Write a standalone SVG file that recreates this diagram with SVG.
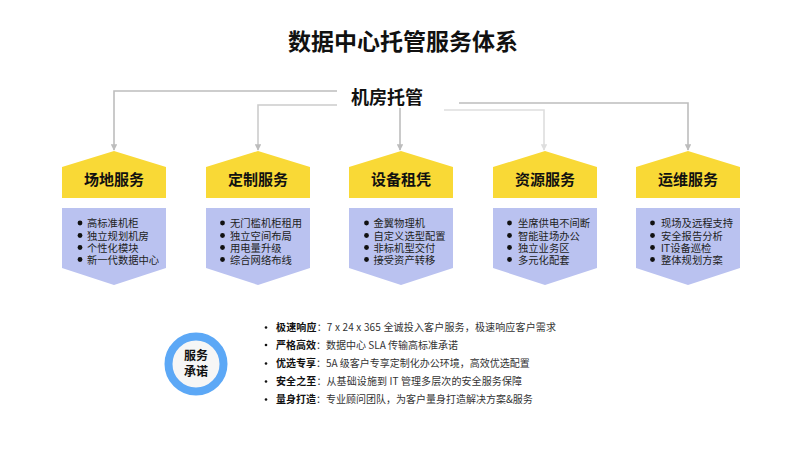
<svg xmlns="http://www.w3.org/2000/svg" width="800" height="450" viewBox="0 0 800 450">
<defs>
<style>
text{font-family:"Noto Sans CJK SC","Noto Sans",sans-serif;fill:#111}
.title{font-size:23px;font-weight:bold;text-anchor:middle}
.root{font-size:18px;font-weight:bold;text-anchor:middle}
.lbl{font-size:15px;font-weight:bold;text-anchor:middle}
.item{font-family:"Liberation Sans","Noto Sans CJK SC",sans-serif;font-size:10.3px;fill:#222}
.hd{fill:#f9d936}
.bd{fill:#bac2f0}
.con{fill:none;stroke:#bdbdbd;stroke-width:1.6}
.b{font-size:10px;fill:#333}
.bb{font-weight:bold;fill:#111}
</style>
<marker id="ar" viewBox="0 0 10 10" refX="9" refY="5" markerWidth="4" markerHeight="4" orient="auto" markerUnits="strokeWidth">
<path d="M0,0 L10,5 L0,10 z" fill="#bdbdbd"/>
</marker>
<marker id="ar2" viewBox="0 0 10 10" refX="9" refY="5" markerWidth="4" markerHeight="4" orient="auto" markerUnits="strokeWidth">
<path d="M0,0 L10,5 L0,10 z" fill="#dedede"/>
</marker>
</defs>
<rect width="800" height="450" fill="#fff"/>
<text class="title" x="403" y="50">数据中心托管服务体系</text>
<g id="root"><text class="root" x="387" y="104">机房托管</text></g>
<g id="connectors">
<path class="con" d="M337,91 H114 V150" marker-end="url(#ar)"/>
<path class="con" d="M337,105 H258 V150" style="stroke:#cccccc" marker-end="url(#ar)"/>
<path class="con" d="M400,108 V150" marker-end="url(#ar)"/>
<path class="con" d="M444,110 H544 V150" style="stroke:#dedede" marker-end="url(#ar2)"/>
<path class="con" d="M459,103 H688 V150" marker-end="url(#ar)"/>
</g>
<g id="n1">
<path class="hd" d="M62,167 L114,151 L166,167 V198 H62 z"/>
<text class="lbl" x="114" y="185">场地服务</text>
<path class="bd" d="M62,208 H166 V268 L114,285 L62,268 z"/>
<circle cx="80" cy="223" r="2.4" fill="#111"/><circle cx="80" cy="235.5" r="2.4" fill="#111"/><circle cx="80" cy="247.5" r="2.4" fill="#111"/><circle cx="80" cy="259.5" r="2.4" fill="#111"/>
<text class="item"><tspan x="87" y="227">高标准机柜</tspan><tspan x="87" y="239.5">独立规划机房</tspan><tspan x="87" y="251.5">个性化模块</tspan><tspan x="87" y="263.5">新一代数据中心</tspan></text>
</g>
<g id="n2">
<path class="hd" d="M206,167 L258,151 L310,167 V198 H206 z"/>
<text class="lbl" x="258" y="185">定制服务</text>
<path class="bd" d="M206,208 H310 V268 L258,285 L206,268 z"/>
<circle cx="222.5" cy="223" r="2.4" fill="#111"/><circle cx="222.5" cy="235.5" r="2.4" fill="#111"/><circle cx="222.5" cy="247.5" r="2.4" fill="#111"/><circle cx="222.5" cy="259.5" r="2.4" fill="#111"/>
<text class="item"><tspan x="230" y="227">无门槛机柜租用</tspan><tspan x="230" y="239.5">独立空间布局</tspan><tspan x="230" y="251.5">用电量升级</tspan><tspan x="230" y="263.5">综合网络布线</tspan></text>
</g>
<g id="n3">
<path class="hd" d="M349,167 L401,151 L453,167 V198 H349 z"/>
<text class="lbl" x="401" y="185">设备租凭</text>
<path class="bd" d="M349,208 H453 V268 L401,285 L349,268 z"/>
<circle cx="366.5" cy="223" r="2.4" fill="#111"/><circle cx="366.5" cy="235.5" r="2.4" fill="#111"/><circle cx="366.5" cy="247.5" r="2.4" fill="#111"/><circle cx="366.5" cy="259.5" r="2.4" fill="#111"/>
<text class="item"><tspan x="373.5" y="227">金翼物理机</tspan><tspan x="373.5" y="239.5">自定义选型配置</tspan><tspan x="373.5" y="251.5">非标机型交付</tspan><tspan x="373.5" y="263.5">接受资产转移</tspan></text>
</g>
<g id="n4">
<path class="hd" d="M493,167 L545,151 L597,167 V198 H493 z"/>
<text class="lbl" x="545" y="185">资源服务</text>
<path class="bd" d="M493,208 H597 V268 L545,285 L493,268 z"/>
<circle cx="509.5" cy="223" r="2.4" fill="#111"/><circle cx="509.5" cy="235.5" r="2.4" fill="#111"/><circle cx="509.5" cy="247.5" r="2.4" fill="#111"/><circle cx="509.5" cy="259.5" r="2.4" fill="#111"/>
<text class="item"><tspan x="518" y="227">坐席供电不间断</tspan><tspan x="518" y="239.5">智能驻场办公</tspan><tspan x="518" y="251.5">独立业务区</tspan><tspan x="518" y="263.5">多元化配套</tspan></text>
</g>
<g id="n5">
<path class="hd" d="M636,167 L688,151 L740,167 V198 H636 z"/>
<text class="lbl" x="688" y="185">运维服务</text>
<path class="bd" d="M636,208 H740 V268 L688,285 L636,268 z"/>
<circle cx="652.5" cy="223" r="2.4" fill="#111"/><circle cx="652.5" cy="235.5" r="2.4" fill="#111"/><circle cx="652.5" cy="247.5" r="2.4" fill="#111"/><circle cx="652.5" cy="259.5" r="2.4" fill="#111"/>
<text class="item"><tspan x="661" y="227">现场及远程支持</tspan><tspan x="661" y="239.5">安全报告分析</tspan><tspan x="661" y="251.5">IT设备巡检</tspan><tspan x="661" y="263.5">整体规划方案</tspan></text>
</g>
<g id="promise">
<circle cx="196" cy="364" r="27.5" fill="#f6f6f6" stroke="#5ca8f6" stroke-width="8"/>
<text style="font-size:12px;font-weight:bold;text-anchor:middle"><tspan x="196" y="360">服务</tspan><tspan x="196" y="376">承诺</tspan></text>
</g>
<g id="promises">
<circle cx="266" cy="327.5" r="1.3" fill="#111"/><circle cx="266" cy="345" r="1.3" fill="#111"/><circle cx="266" cy="363.5" r="1.3" fill="#111"/><circle cx="266" cy="381.5" r="1.3" fill="#111"/><circle cx="266" cy="399.5" r="1.3" fill="#111"/>
<text class="b" x="276" y="331" textLength="280" lengthAdjust="spacing"><tspan class="bb">极速响应</tspan>：7 x 24 x 365 全诚投入客户服务，极速响应客户需求</text>
<text class="b" x="276" y="348.5"><tspan class="bb">严格高效</tspan>：数据中心 SLA 传输高标准承诺</text>
<text class="b" x="276" y="367"><tspan class="bb">优选专享</tspan>：5A 级客户专享定制化办公环境，高效优选配置</text>
<text class="b" x="276" y="385" textLength="246" lengthAdjust="spacing"><tspan class="bb">安全之至</tspan>：从基础设施到 IT 管理多层次的安全服务保障</text>
<text class="b" x="276" y="403"><tspan class="bb">量身打造</tspan>：专业顾问团队，为客户量身打造解决方案&amp;服务</text>
</g>
</svg>
